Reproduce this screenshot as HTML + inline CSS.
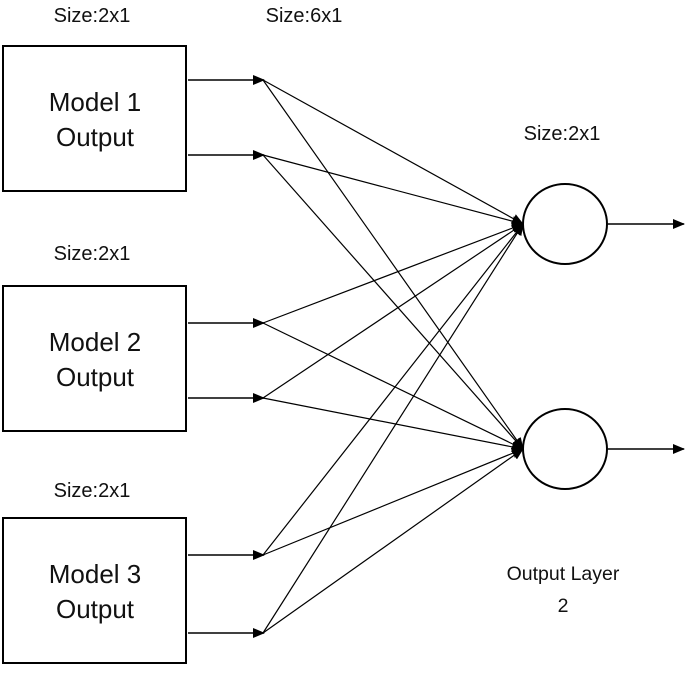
<!DOCTYPE html>
<html><head><meta charset="utf-8"><style>
html,body{margin:0;padding:0;background:#fff;}
svg text{font-family:"Liberation Sans",sans-serif;fill:#111;}
</style></head><body>
<svg width="685" height="673" viewBox="0 0 685 673" xmlns="http://www.w3.org/2000/svg">
<defs><marker id="a" markerWidth="12" markerHeight="12" refX="11" refY="6" orient="auto" markerUnits="userSpaceOnUse"><path d="M0,1 L12,6 L0,11 z" fill="#000"/></marker></defs>
<g font-size="20">
<text x="92" y="22" text-anchor="middle">Size:2x1</text>
<text x="304" y="22" text-anchor="middle">Size:6x1</text>
<text x="562" y="140" text-anchor="middle">Size:2x1</text>
<text x="92" y="260" text-anchor="middle">Size:2x1</text>
<text x="92" y="497" text-anchor="middle">Size:2x1</text>
<text x="563" y="580" text-anchor="middle" font-size="19.5">Output Layer</text>
<text x="563" y="612" text-anchor="middle" font-size="19.5">2</text>
</g>
<g fill="none" stroke="#000" stroke-width="2">
<rect x="3" y="46" width="183" height="145"/>
<rect x="3" y="286" width="183" height="145"/>
<rect x="3" y="518" width="183" height="145"/>
<ellipse cx="565" cy="224" rx="42" ry="40"/>
<ellipse cx="565" cy="449" rx="42" ry="40"/>
</g>
<g font-size="26" text-anchor="middle">
<text x="95" y="111">Model 1</text><text x="95" y="146">Output</text>
<text x="95" y="351">Model 2</text><text x="95" y="386">Output</text>
<text x="95" y="583">Model 3</text><text x="95" y="618">Output</text>
</g>
<g stroke="#000" stroke-width="1.5" marker-end="url(#a)">
<line x1="188" y1="80" x2="264" y2="80"/>
<line x1="188" y1="155" x2="264" y2="155"/>
<line x1="188" y1="323" x2="264" y2="323"/>
<line x1="188" y1="398" x2="264" y2="398"/>
<line x1="188" y1="555" x2="264" y2="555"/>
<line x1="188" y1="633" x2="264" y2="633"/>
<line x1="608" y1="224" x2="684" y2="224"/>
<line x1="608" y1="449" x2="684" y2="449"/>
</g>
<g stroke="#000" stroke-width="1.2" marker-end="url(#a)">
<line x1="263" y1="80" x2="523" y2="224"/><line x1="263" y1="80" x2="523" y2="449"/>
<line x1="263" y1="155" x2="523" y2="224"/><line x1="263" y1="155" x2="523" y2="449"/>
<line x1="263" y1="323" x2="523" y2="224"/><line x1="263" y1="323" x2="523" y2="449"/>
<line x1="263" y1="398" x2="523" y2="224"/><line x1="263" y1="398" x2="523" y2="449"/>
<line x1="263" y1="555" x2="523" y2="224"/><line x1="263" y1="555" x2="523" y2="449"/>
<line x1="263" y1="633" x2="523" y2="224"/><line x1="263" y1="633" x2="523" y2="449"/>
</g>
</svg>
</body></html>
